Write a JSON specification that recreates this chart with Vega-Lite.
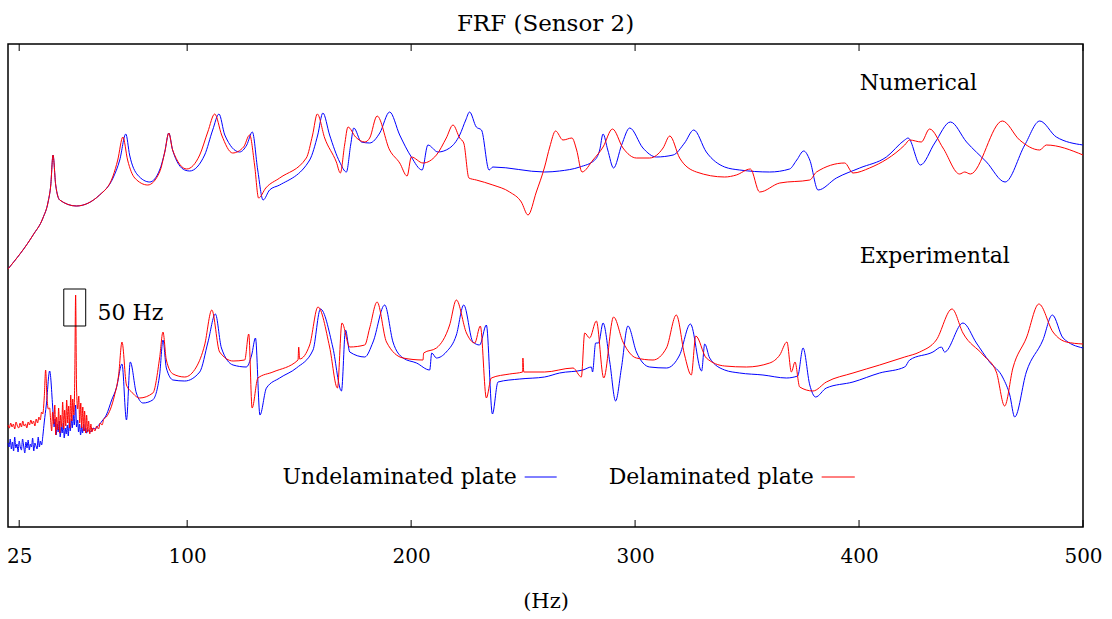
{
"$schema": "https://vega.github.io/schema/vega-lite/v6.json",
"width": 1075, "height": 483,
"autosize": {"type": "none"},
"padding": {"left": 8, "top": 44, "right": 29, "bottom": 92},
"title": {"text": "FRF (Sensor 2)", "font": "DejaVu Serif", "fontSize": 23, "fontWeight": "normal", "color": "black", "offset": 8},
"config": {"view": {"stroke": "black", "strokeWidth": 1.5}, "font": "DejaVu Serif"},
"datasets": {
"nb": [{"f":20.0,"v":258},{"f":31.2,"v":292},{"f":35.6,"v":309},{"f":37.9,"v":325},{"f":39.1,"v":342},{"f":40.1,"v":372},{"f":41.3,"v":342},{"f":43.1,"v":327},{"f":50.5,"v":321},{"f":60.9,"v":332},{"f":66.9,"v":349},{"f":69.9,"v":367},{"f":72.6,"v":393},{"f":74.3,"v":372},{"f":77.9,"v":352},{"f":83.3,"v":345},{"f":87.7,"v":357},{"f":90.0,"v":375},{"f":91.8,"v":394},{"f":93.5,"v":377},{"f":98.9,"v":357},{"f":101.1,"v":356},{"f":107.8,"v":372},{"f":111.4,"v":397},{"f":114.2,"v":413},{"f":116.8,"v":392},{"f":123.4,"v":375},{"f":126.6,"v":382},{"f":129.1,"v":395},{"f":131.5,"v":357},{"f":133.9,"v":327},{"f":136.8,"v":337},{"f":141.3,"v":342},{"f":154.7,"v":367},{"f":158.3,"v":392},{"f":160.6,"v":414},{"f":163.6,"v":392},{"f":168.1,"v":365},{"f":171.1,"v":355},{"f":173.0,"v":382},{"f":174.4,"v":399},{"f":177.8,"v":385},{"f":181.5,"v":384},{"f":186.0,"v":394},{"f":190.4,"v":415},{"f":194.9,"v":392},{"f":200.1,"v":370},{"f":204.9,"v":357},{"f":207.5,"v":382},{"f":212.0,"v":375},{"f":217.2,"v":379},{"f":221.7,"v":392},{"f":224.4,"v":407},{"f":226.1,"v":415},{"f":229.1,"v":400},{"f":231.4,"v":397},{"f":234.8,"v":357},{"f":236.5,"v":360},{"f":259.6,"v":355},{"f":266.3,"v":356},{"f":275.3,"v":360},{"f":282.0,"v":367},{"f":284.2,"v":377},{"f":285.7,"v":393},{"f":287.8,"v":377},{"f":290.4,"v":359},{"f":294.0,"v":382},{"f":297.6,"v":399},{"f":303.5,"v":379},{"f":309.5,"v":370},{"f":317.0,"v":372},{"f":322.1,"v":384},{"f":326.2,"v":397},{"f":331.8,"v":375},{"f":340.0,"v":360},{"f":346.7,"v":357},{"f":360.1,"v":355},{"f":369.0,"v":358},{"f":372.2,"v":367},{"f":375.3,"v":376},{"f":378.0,"v":367},{"f":381.7,"v":337},{"f":389.9,"v":349},{"f":400.3,"v":359},{"f":412.2,"v":370},{"f":420.4,"v":387},{"f":421.9,"v":389},{"f":427.4,"v":362},{"f":433.8,"v":384},{"f":440.8,"v":405},{"f":448.0,"v":385},{"f":456.9,"v":365},{"f":465.2,"v":345},{"f":474.0,"v":382},{"f":480.7,"v":406},{"f":488.1,"v":390},{"f":500,"v":382}],
"nr": [{"f":20.0,"v":258},{"f":31.2,"v":292},{"f":35.6,"v":309},{"f":37.9,"v":325},{"f":39.1,"v":342},{"f":40.1,"v":372},{"f":41.3,"v":342},{"f":43.1,"v":327},{"f":50.5,"v":321},{"f":60.9,"v":332},{"f":66.9,"v":351},{"f":69.0,"v":367},{"f":71.3,"v":390},{"f":73.4,"v":367},{"f":76.6,"v":349},{"f":82.4,"v":342},{"f":87.7,"v":355},{"f":90.0,"v":375},{"f":91.8,"v":394},{"f":93.5,"v":377},{"f":99.8,"v":358},{"f":105.6,"v":372},{"f":109.2,"v":395},{"f":112.3,"v":413},{"f":115.4,"v":392},{"f":120.3,"v":374},{"f":125.2,"v":380},{"f":127.9,"v":392},{"f":130.1,"v":362},{"f":131.9,"v":329},{"f":135.1,"v":339},{"f":141.3,"v":349},{"f":153.2,"v":369},{"f":156.0,"v":392},{"f":158.1,"v":413},{"f":161.4,"v":389},{"f":166.6,"v":365},{"f":168.4,"v":354},{"f":170.3,"v":382},{"f":171.8,"v":400},{"f":175.2,"v":390},{"f":179.3,"v":385},{"f":181.5,"v":389},{"f":184.8,"v":411},{"f":190.4,"v":377},{"f":194.9,"v":364},{"f":198.2,"v":351},{"f":200.1,"v":370},{"f":205.3,"v":364},{"f":211.3,"v":372},{"f":215.7,"v":389},{"f":218.7,"v":402},{"f":221.7,"v":389},{"f":223.5,"v":384},{"f":225.8,"v":349},{"f":229.1,"v":347},{"f":236.5,"v":342},{"f":244.0,"v":335},{"f":249.2,"v":325},{"f":252.2,"v":312},{"f":255.9,"v":335},{"f":259.6,"v":360},{"f":261.9,"v":380},{"f":264.5,"v":396},{"f":267.8,"v":387},{"f":271.8,"v":389},{"f":273.9,"v":377},{"f":276.3,"v":355},{"f":281.2,"v":367},{"f":285.7,"v":380},{"f":289.9,"v":398},{"f":294.6,"v":379},{"f":300.6,"v":369},{"f":306.5,"v":369},{"f":312.5,"v":379},{"f":315.5,"v":391},{"f":319.9,"v":369},{"f":327.4,"v":355},{"f":340.0,"v":350},{"f":345.2,"v":352},{"f":351.5,"v":358},{"f":355.6,"v":335},{"f":364.6,"v":344},{"f":378.0,"v":347},{"f":381.0,"v":355},{"f":393.6,"v":364},{"f":397.3,"v":354},{"f":404.7,"v":359},{"f":420.4,"v":382},{"f":422.6,"v":387},{"f":427.8,"v":385},{"f":431.5,"v":398},{"f":437.5,"v":379},{"f":444.9,"v":353},{"f":447.2,"v":355},{"f":449.7,"v":353},{"f":464.0,"v":406},{"f":471.7,"v":387},{"f":480.7,"v":377},{"f":483.6,"v":382},{"f":500,"v":372}],
"eb": [{"f":20.0,"v":84},{"f":20.5,"v":80},{"f":21.0,"v":88},{"f":21.5,"v":78},{"f":22.0,"v":85},{"f":22.5,"v":76},{"f":23.0,"v":90},{"f":23.5,"v":79},{"f":24.0,"v":83},{"f":24.5,"v":75},{"f":25.0,"v":86},{"f":25.5,"v":80},{"f":26.0,"v":77},{"f":26.5,"v":88},{"f":27.0,"v":81},{"f":27.5,"v":74},{"f":28.0,"v":85},{"f":28.5,"v":79},{"f":29.0,"v":87},{"f":29.5,"v":77},{"f":30.0,"v":83},{"f":30.5,"v":80},{"f":31.0,"v":89},{"f":31.5,"v":76},{"f":32.0,"v":84},{"f":32.5,"v":81},{"f":33.0,"v":78},{"f":33.5,"v":90},{"f":34.0,"v":80},{"f":34.5,"v":86},{"f":35.0,"v":82},{"f":35.6,"v":92},{"f":36.2,"v":105},{"f":37.1,"v":122},{"f":38.6,"v":156},{"f":40.1,"v":115},{"f":40.6,"v":100},{"f":41.0,"v":108},{"f":41.5,"v":92},{"f":42.0,"v":103},{"f":42.4,"v":95},{"f":42.9,"v":106},{"f":43.3,"v":90},{"f":43.8,"v":100},{"f":44.2,"v":94},{"f":44.7,"v":104},{"f":45.1,"v":89},{"f":45.6,"v":99},{"f":46.0,"v":93},{"f":46.5,"v":102},{"f":46.9,"v":91},{"f":47.4,"v":105},{"f":47.8,"v":96},{"f":48.3,"v":108},{"f":48.7,"v":99},{"f":49.2,"v":112},{"f":49.6,"v":102},{"f":50.2,"v":122},{"f":50.6,"v":100},{"f":51.1,"v":107},{"f":51.5,"v":95},{"f":52.0,"v":103},{"f":52.4,"v":92},{"f":52.9,"v":100},{"f":53.3,"v":94},{"f":53.8,"v":103},{"f":54.2,"v":96},{"f":54.7,"v":99},{"f":55.1,"v":94},{"f":56.0,"v":97},{"f":57.0,"v":95},{"f":58.0,"v":99},{"f":59.0,"v":98},{"f":60.0,"v":101},{"f":61.0,"v":103},{"f":62.0,"v":106},{"f":63.9,"v":112},{"f":66.3,"v":127},{"f":68.4,"v":139},{"f":70.9,"v":163},{"f":72.9,"v":107},{"f":74.6,"v":165},{"f":77.3,"v":134},{"f":80.3,"v":124},{"f":84.6,"v":127},{"f":87.7,"v":152},{"f":89.2,"v":187},{"f":90.7,"v":159},{"f":93.7,"v":147},{"f":98.9,"v":146},{"f":105.6,"v":155},{"f":109.3,"v":185},{"f":112.6,"v":213},{"f":115.3,"v":179},{"f":120.5,"v":162},{"f":126.4,"v":160},{"f":128.8,"v":172},{"f":130.5,"v":189},{"f":132.5,"v":112},{"f":135.4,"v":139},{"f":141.3,"v":149},{"f":148.8,"v":159},{"f":156.2,"v":177},{"f":159.5,"v":218},{"f":165.1,"v":179},{"f":168.9,"v":136},{"f":170.7,"v":197},{"f":172.6,"v":175},{"f":179.3,"v":170},{"f":183.0,"v":185},{"f":188.2,"v":222},{"f":191.9,"v":185},{"f":196.4,"v":169},{"f":202.4,"v":164},{"f":208.3,"v":157},{"f":209.2,"v":174},{"f":211.3,"v":169},{"f":215.7,"v":175},{"f":220.2,"v":192},{"f":223.5,"v":222},{"f":227.6,"v":185},{"f":230.6,"v":182},{"f":233.6,"v":202},{"f":236.3,"v":113},{"f":238.8,"v":145},{"f":248.5,"v":148},{"f":259.6,"v":150},{"f":266.3,"v":154},{"f":276.7,"v":157},{"f":280.5,"v":160},{"f":281.0,"v":155},{"f":282.4,"v":184},{"f":283.7,"v":184},{"f":285.7,"v":204},{"f":288.7,"v":165},{"f":291.3,"v":126},{"f":293.9,"v":159},{"f":296.8,"v":201},{"f":300.6,"v":175},{"f":306.5,"v":160},{"f":314.0,"v":159},{"f":319.9,"v":172},{"f":324.7,"v":203},{"f":329.7,"v":156},{"f":331.1,"v":183},{"f":333.3,"v":169},{"f":340.0,"v":157},{"f":346.7,"v":154},{"f":357.1,"v":152},{"f":367.6,"v":149},{"f":372.6,"v":151},{"f":375.0,"v":179},{"f":378.0,"v":142},{"f":380.6,"v":130},{"f":385.4,"v":139},{"f":397.3,"v":145},{"f":409.2,"v":154},{"f":420.4,"v":160},{"f":422.6,"v":167},{"f":433.0,"v":175},{"f":436.8,"v":180},{"f":438.2,"v":175},{"f":446.4,"v":204},{"f":452.4,"v":184},{"f":458.3,"v":165},{"f":464.3,"v":149},{"f":467.3,"v":132},{"f":469.5,"v":110},{"f":474.7,"v":155},{"f":482.1,"v":187},{"f":486.3,"v":212},{"f":491.1,"v":189},{"f":500,"v":179}],
"er": [{"f":20.0,"v":102},{"f":20.6,"v":99},{"f":21.2,"v":104},{"f":21.8,"v":100},{"f":22.4,"v":103},{"f":23.0,"v":98},{"f":23.6,"v":105},{"f":24.2,"v":101},{"f":24.8,"v":99},{"f":25.4,"v":104},{"f":26.0,"v":100},{"f":26.6,"v":106},{"f":27.2,"v":101},{"f":27.8,"v":103},{"f":28.4,"v":99},{"f":29.0,"v":105},{"f":29.6,"v":102},{"f":30.2,"v":107},{"f":30.8,"v":103},{"f":31.4,"v":106},{"f":32.0,"v":101},{"f":32.6,"v":108},{"f":33.2,"v":104},{"f":33.8,"v":110},{"f":34.4,"v":107},{"f":35.0,"v":115},{"f":35.5,"v":113},{"f":36.2,"v":130},{"f":36.8,"v":157},{"f":37.4,"v":130},{"f":38.0,"v":118},{"f":38.6,"v":119},{"f":39.0,"v":108},{"f":39.5,"v":96},{"f":39.9,"v":115},{"f":40.4,"v":103},{"f":40.9,"v":122},{"f":41.3,"v":92},{"f":41.7,"v":110},{"f":42.2,"v":97},{"f":42.6,"v":119},{"f":43.1,"v":94},{"f":43.5,"v":112},{"f":44.0,"v":100},{"f":44.4,"v":125},{"f":44.9,"v":98},{"f":45.3,"v":117},{"f":45.8,"v":101},{"f":46.2,"v":127},{"f":46.7,"v":104},{"f":47.1,"v":121},{"f":47.6,"v":99},{"f":48.0,"v":132},{"f":48.5,"v":106},{"f":48.9,"v":128},{"f":49.4,"v":112},{"f":49.8,"v":147},{"f":50.2,"v":232},{"f":50.6,"v":140},{"f":51.1,"v":118},{"f":51.6,"v":131},{"f":52.0,"v":104},{"f":52.5,"v":124},{"f":52.9,"v":99},{"f":53.4,"v":120},{"f":53.8,"v":96},{"f":54.2,"v":116},{"f":54.7,"v":94},{"f":55.1,"v":112},{"f":55.6,"v":95},{"f":56.0,"v":106},{"f":56.5,"v":93},{"f":57.0,"v":103},{"f":57.5,"v":95},{"f":58.0,"v":99},{"f":58.8,"v":96},{"f":59.6,"v":101},{"f":60.4,"v":98},{"f":61.2,"v":104},{"f":62.0,"v":102},{"f":62.8,"v":108},{"f":63.9,"v":110},{"f":67.6,"v":132},{"f":69.4,"v":152},{"f":70.9,"v":185},{"f":72.9,"v":142},{"f":75.2,"v":135},{"f":78.8,"v":129},{"f":84.7,"v":134},{"f":87.7,"v":169},{"f":89.2,"v":195},{"f":90.7,"v":167},{"f":93.7,"v":153},{"f":98.9,"v":150},{"f":104.1,"v":160},{"f":107.8,"v":182},{"f":111.0,"v":217},{"f":114.5,"v":175},{"f":120.5,"v":166},{"f":125.7,"v":167},{"f":127.5,"v":193},{"f":129.0,"v":119},{"f":131.6,"v":149},{"f":138.3,"v":155},{"f":149.5,"v":167},{"f":149.8,"v":180},{"f":150.2,"v":168},{"f":154.7,"v":182},{"f":158.4,"v":220},{"f":163.6,"v":180},{"f":167.1,"v":139},{"f":169.1,"v":204},{"f":172.6,"v":180},{"f":179.3,"v":182},{"f":181.5,"v":199},{"f":184.8,"v":225},{"f":189.0,"v":185},{"f":196.4,"v":169},{"f":205.3,"v":167},{"f":205.6,"v":174},{"f":211.3,"v":179},{"f":217.2,"v":202},{"f":220.2,"v":227},{"f":224.7,"v":194},{"f":228.4,"v":184},{"f":230.9,"v":201},{"f":233.6,"v":129},{"f":235.8,"v":149},{"f":244.0,"v":153},{"f":249.8,"v":155},{"f":249.9,"v":169},{"f":250.3,"v":155},{"f":259.6,"v":155},{"f":272.3,"v":159},{"f":276.0,"v":150},{"f":277.5,"v":194},{"f":279.7,"v":189},{"f":282.7,"v":206},{"f":286.0,"v":149},{"f":290.4,"v":210},{"f":294.6,"v":185},{"f":300.6,"v":169},{"f":308.0,"v":167},{"f":314.0,"v":179},{"f":318.4,"v":212},{"f":322.1,"v":172},{"f":325.1,"v":152},{"f":327.1,"v":191},{"f":331.8,"v":169},{"f":340.0,"v":161},{"f":349.7,"v":160},{"f":360.1,"v":164},{"f":364.6,"v":172},{"f":367.8,"v":185},{"f":369.8,"v":155},{"f":371.4,"v":165},{"f":373.5,"v":140},{"f":379.4,"v":136},{"f":385.4,"v":145},{"f":397.3,"v":154},{"f":409.2,"v":162},{"f":420.4,"v":170},{"f":427.1,"v":175},{"f":434.5,"v":187},{"f":441.5,"v":218},{"f":446.4,"v":194},{"f":455.4,"v":172},{"f":461.3,"v":155},{"f":465.0,"v":121},{"f":468.7,"v":159},{"f":474.7,"v":189},{"f":480.3,"v":223},{"f":486.6,"v":195},{"f":492.6,"v":185},{"f":500,"v":183}],
"ticks": [{"f":25,"v":0,"v2":7},{"f":100,"v":0,"v2":7},{"f":200,"v":0,"v2":7},{"f":300,"v":0,"v2":7},{"f":400,"v":0,"v2":7},{"f":500,"v":0,"v2":7},{"f":25,"v":476,"v2":483},{"f":100,"v":476,"v2":483},{"f":200,"v":476,"v2":483},{"f":300,"v":476,"v2":483},{"f":400,"v":476,"v2":483},{"f":500,"v":476,"v2":483}],
"legendText": [{"f":248.5,"v":50,"t":"Undelaminated plate"},{"f":381.1,"v":50,"t":"Delaminated plate"}],
"legendLines": [{"f":250.7,"f2":265.0,"v":50,"c":"Undelaminated plate"},{"f":383.3,"f2":398.1,"v":50,"c":"Delaminated plate"}],
"notes": [{"f":400.3,"v":444,"t":"Numerical"},{"f":400.3,"v":271,"t":"Experimental"},{"f":60.0,"v":214,"t":"50 Hz"}],
"box": [{"f":44.9,"f2":54.7,"v":238,"v2":201}]
},
"layer": [
{"data": {"name": "nb"}, "mark": {"type": "line", "color": "#0000ff", "strokeWidth": 1, "interpolate": "monotone"},
 "encoding": {
  "x": {"field": "f", "type": "quantitative", "scale": {"domain": [20, 500], "nice": false, "zero": false},
   "axis": {"orient": "bottom", "offset": -7, "values": [25, 100, 200, 300, 400, 500], "domain": false, "grid": false, "ticks": true, "tickSize": 7, "tickOpacity": 0, "labelFont": "DejaVu Serif", "labelFontSize": 20, "labelColor": "black", "labelPadding": 19, "labelFlush": false, "title": "(Hz)", "titleFont": "DejaVu Serif", "titleFontSize": 21, "titleFontWeight": "normal", "titleColor": "black", "titlePadding": 24}},
  "y": {"field": "v", "type": "quantitative", "scale": {"domain": [0, 483], "nice": false, "zero": false}, "axis": null}}},
{"data": {"name": "eb"}, "mark": {"type": "line", "color": "#0000ff", "strokeWidth": 1, "interpolate": "monotone"},
 "encoding": {"x": {"field": "f", "type": "quantitative"}, "y": {"field": "v", "type": "quantitative"}}},
{"data": {"name": "nr"}, "mark": {"type": "line", "color": "#ff0000", "strokeWidth": 1, "interpolate": "monotone"},
 "encoding": {"x": {"field": "f", "type": "quantitative"}, "y": {"field": "v", "type": "quantitative"}}},
{"data": {"name": "er"}, "mark": {"type": "line", "color": "#ff0000", "strokeWidth": 1, "interpolate": "monotone"},
 "encoding": {"x": {"field": "f", "type": "quantitative"}, "y": {"field": "v", "type": "quantitative"}}},
{"data": {"name": "ticks"}, "mark": {"type": "rule", "color": "black", "strokeWidth": 1},
 "encoding": {"x": {"field": "f", "type": "quantitative"}, "y": {"field": "v", "type": "quantitative"}, "y2": {"field": "v2"}}},
{"data": {"name": "legendLines"}, "mark": {"type": "rule", "strokeWidth": 1},
 "encoding": {
  "x": {"field": "f", "type": "quantitative"},
  "x2": {"field": "f2"},
  "y": {"field": "v", "type": "quantitative"},
  "color": {"field": "c", "type": "nominal", "scale": {"domain": ["Undelaminated plate", "Delaminated plate"], "range": ["#0000ff", "#ff0000"]}, "legend": null}}},
{"data": {"name": "legendText"}, "mark": {"type": "text", "align": "right", "baseline": "middle", "font": "DejaVu Serif", "fontSize": 22, "color": "black", "dx": -3},
 "encoding": {"x": {"field": "f", "type": "quantitative"}, "y": {"field": "v", "type": "quantitative"}, "text": {"field": "t"}}},
{"data": {"name": "notes"}, "mark": {"type": "text", "align": "left", "baseline": "middle", "font": "DejaVu Serif", "fontSize": 22, "color": "black"},
 "encoding": {"x": {"field": "f", "type": "quantitative"}, "y": {"field": "v", "type": "quantitative"}, "text": {"field": "t"}}},
{"data": {"name": "box"}, "mark": {"type": "rect", "fill": null, "stroke": "black", "strokeWidth": 1},
 "encoding": {"x": {"field": "f", "type": "quantitative"}, "x2": {"field": "f2"}, "y": {"field": "v", "type": "quantitative"}, "y2": {"field": "v2"}}}
]
}
